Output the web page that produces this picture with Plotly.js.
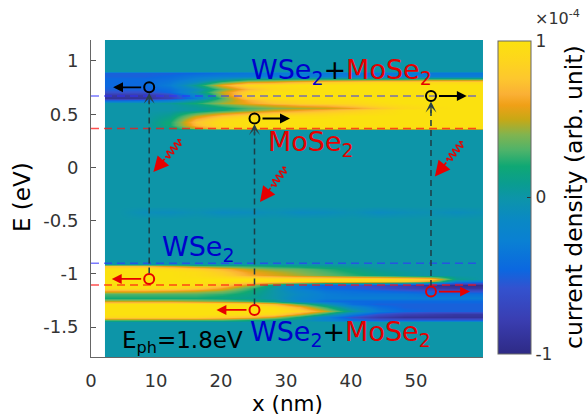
<!DOCTYPE html>
<html><head><meta charset="utf-8">
<script src="https://cdn.plot.ly/plotly-3.0.1.min.js"></script>
<style>html,body{margin:0;padding:0;background:#fff}#plot{width:588px;height:415px}</style>
</head><body><div id="plot"></div>
<script>
// ---------------- data ----------------
// x positions (nm) of the sampled current-density columns
const xPositions = [4.15, 8.15, 12.15, 16.15, 20.15, 24.15, 28.15, 32.15, 36.15, 40.15, 44.15, 48.15, 52.15, 56.15, 60.15];
// energy levels (eV), top to bottom
const energyLevels = [1.22, 0.905, 0.885, 0.86, 0.83, 0.80, 0.77, 0.74, 0.71, 0.68, 0.655, 0.635, 0.61, 0.585, 0.56, 0.535, 0.51, 0.485, 0.455, 0.425, 0.395, 0.372, 0.355,
  -0.36, -0.42, -0.48,
  -0.905, -0.925, -0.95, -0.98, -1.01, -1.045, -1.07, -1.10, -1.13, -1.16, -1.19, -1.225, -1.255, -1.285, -1.315, -1.345, -1.375, -1.405, -1.43, -1.45, -1.80];
// current density (x1e-4 arb. unit), one row per energy level
const currentDensity = [
  [0,0,0,0,0,0,0,0,0,0,0,0,0,0,0],
  [0,0,0,0,0,0,0,0,0,0,0,0,0,0,0],
  [-0.5,-0.5,-0.5,-0.45,-0.4,-0.35,-0.35,-0.35,-0.35,-0.35,-0.35,-0.35,-0.35,-0.35,-0.35],
  [-0.5,-0.5,-0.45,-0.35,-0.3,-0.3,-0.3,-0.3,-0.3,-0.3,-0.3,-0.3,-0.3,-0.3,-0.3],
  [-0.45,-0.45,-0.4,-0.25,-0.05,0.15,0.2,0.25,0.25,0.25,0.25,0.25,0.3,0.3,0.3],
  [-0.45,-0.45,-0.35,-0.1,0.3,0.55,0.6,0.7,0.8,0.85,0.9,0.9,0.9,0.9,0.9],
  [-0.45,-0.45,-0.3,0.1,0.6,0.9,0.95,1,1,1,1,1,1,1,1],
  [-0.5,-0.5,-0.4,-0.1,0.35,0.7,0.9,0.95,1,1,1,1,1,1,1],
  [-0.6,-0.6,-0.45,0,0.5,0.85,1,1,1,1,1,1,1,1,1],
  [-0.85,-0.85,-0.7,-0.2,0.45,0.9,1,1,1,1,1,1,1,1,1],
  [-0.9,-0.9,-0.75,-0.3,0.3,0.8,0.95,1,1,1,1,1,1,1,1],
  [-0.5,-0.45,-0.3,0,0.35,0.65,0.85,0.9,0.95,0.95,1,1,1,1,1],
  [0,0,0.05,0.2,0.45,0.6,0.75,0.85,0.9,0.9,0.95,1,1,1,1],
  [0,0,0,0.1,0.3,0.45,0.55,0.65,0.7,0.8,0.9,0.95,1,1,1],
  [0,0,0,0.05,0.15,0.3,0.4,0.45,0.5,0.6,0.75,0.9,0.95,1,1],
  [0,0,0,0.05,0.2,0.35,0.5,0.6,0.7,0.8,0.9,1,1,1,1],
  [0,0,0.05,0.3,0.5,0.65,0.75,0.8,0.85,0.9,0.95,1,1,1,1],
  [0,0,0.1,0.5,0.75,0.9,0.95,0.95,0.95,1,1,1,1,1,1],
  [0,0,0.15,0.65,0.9,1,1,1,1,1,1,1,1,1,1],
  [0,0,0.2,0.75,0.95,1,1,1,1,1,1,1,1,1,1],
  [0,0,0.2,0.7,0.95,1,1,1,1,1,1,1,1,1,1],
  [0,0,0.1,0.5,0.8,0.9,0.95,0.95,0.95,0.95,0.95,0.95,0.95,0.95,0.95],
  [0,0,0,0,0,0,0,0,0,0,0,0,0,0,0],
  [0,0,0,0,0,0,0,0,0,0,0,0,0,0,0],
  [0,-0.08,-0.1,-0.05,-0.12,-0.1,-0.06,-0.12,-0.1,-0.05,-0.12,-0.08,-0.05,-0.1,-0.05],
  [0,0,0,0,0,0,0,0,0,0,0,0,0,0,0],
  [0,0,0,0,0,0,0,0,0,0,0,0,0,0,0],
  [0.75,0.7,0.55,0.4,0.3,0.25,0.2,0.15,0.1,0.05,0,0,0,0,0],
  [1,1,0.95,0.85,0.7,0.5,0.4,0.35,0.25,0.15,0.05,0,0,0,0],
  [1,1,1,0.95,0.8,0.6,0.5,0.4,0.3,0.2,0.1,0.05,0,0,0],
  [1,1,1,0.95,0.85,0.65,0.55,0.45,0.35,0.25,0.15,0.05,0,0,0],
  [1,1,1,1,1,1,0.95,0.95,0.95,0.95,0.95,0.9,0.8,0.1,0],
  [1,1,1,1,1,0.95,0.95,0.95,0.9,0.9,0.85,0.8,0.6,-0.2,-0.3],
  [1,1,1,0.95,0.8,0.5,0.1,-0.3,-0.5,-0.55,-0.65,-0.75,-0.9,-0.95,-0.95],
  [0.95,0.95,0.9,0.8,0.6,0.3,0,-0.3,-0.45,-0.5,-0.6,-0.7,-0.8,-0.85,-0.85],
  [0.6,0.6,0.55,0.5,0.4,0.2,0,-0.2,-0.35,-0.4,-0.45,-0.5,-0.55,-0.6,-0.6],
  [0.3,0.3,0.3,0.3,0.25,0.15,0,-0.15,-0.3,-0.35,-0.35,-0.35,-0.4,-0.4,-0.4],
  [0.2,0.2,0.2,0.2,0.15,0.1,0,-0.2,-0.3,-0.3,-0.3,-0.3,-0.3,-0.3,-0.3],
  [0.5,0.5,0.5,0.45,0.4,0.3,0.1,-0.2,-0.4,-0.45,-0.45,-0.45,-0.45,-0.45,-0.45],
  [1,1,1,1,0.95,0.9,0.7,0.35,0,-0.4,-0.5,-0.5,-0.5,-0.5,-0.5],
  [1,1,1,1,1,1,0.95,0.65,0.25,-0.15,-0.4,-0.5,-0.5,-0.5,-0.5],
  [1,1,1,1,1,1,1,0.85,0.5,0.05,-0.3,-0.45,-0.5,-0.5,-0.5],
  [1,1,1,1,1,0.95,0.9,0.55,0.15,-0.3,-0.6,-0.75,-0.8,-0.85,-0.85],
  [0.9,0.9,0.9,0.9,0.8,0.7,0.5,0.15,-0.25,-0.6,-0.8,-0.9,-0.9,-0.9,-0.9],
  [0.3,0.3,0.3,0.3,0.3,0.2,0.1,0,-0.2,-0.4,-0.5,-0.5,-0.5,-0.5,-0.5],
  [0,0,0,0,0,0,0,0,0,0,0,0,0,0,0],
  [0,0,0,0,0,0,0,0,0,0,0,0,0,0,0]
];
const xTickVals = [0, 10, 20, 30, 40, 50];
const yTickVals = [-1.5, -1, -0.5, 0, 0.5, 1];
const yTickText = ['-1.5', '-1', '-0.5', '0', '0.5', '1'];
const cbTickVals = [-1, 0, 1];
const cbTickText = ['-1', '0', '1'];

// transitions: position x (nm), excited (upper) and hole (lower) energies (eV)
const transitionX = [8.95, 25.15, 52.3];
const upperE = [0.753, 0.46, 0.671];
const lowerE = [-1.047, -1.338, -1.166];
const upperArrowTipX = [3.4, 30.6, 57.8];
const lowerArrowTipX = [3.2, 19.3, 58.3];
// band-edge levels (eV)
const blueLevels = [0.67, -0.90];
const redLevels = [0.365, -1.103];
// photon arrows: tail and tip (x nm, E eV)
const photonTailX = [13.85, 30.0, 57.2];
const photonTailE = [0.258, 0.0, 0.24];
const photonTipX = [9.6, 26.0, 52.9];
const photonTipE = [-0.042, -0.324, -0.084];

// ---------------- layout geometry ----------------
const W = 588, H = 415, ML = 91, MR = 105, MT = 40, MB = 58;
const xRange = [0, 60.3], yRange = [-1.78, 1.197];
const PW = W - ML - MR, PH = H - MT - MB;
const pxPerX = PW / (xRange[1] - xRange[0]);
const pxPerY = PH / (yRange[1] - yRange[0]);
const toPx = (x, y) => [ML + (x - xRange[0]) * pxPerX, MT + (yRange[1] - y) * pxPerY];
const toData = (px, py) => [xRange[0] + (px - ML) / pxPerX, yRange[1] - (py - MT) / pxPerY];
const paperX = px => (px - ML) / PW;
const paperY = py => (H - MB - py) / PH;

const FONT = 'DejaVu Sans, sans-serif';
const BLUE = '#0000cc', RED = '#e60000';

// ascending energy order for the heatmap
const yAsc = energyLevels.slice().reverse();
const zAsc = currentDensity.slice().reverse();

const colorscale = [
  [0.00, '#2e2a85'], [0.11, '#3a3eb2'], [0.21, '#3352cf'], [0.27, '#0b68e0'],
  [0.36, '#0a80d3'], [0.43, '#0a89c4'], [0.50, '#0d95a8'], [0.54, '#0a9c92'],
  [0.60, '#0fa874'], [0.65, '#4db36a'], [0.70, '#80b450'], [0.75, '#c8a815'],
  [0.795, '#f0a017'], [0.83, '#fab035'], [0.88, '#fdc72e'], [0.94, '#fdd61c'], [1.00, '#fbe10f']
];

const heat = {
  type: 'heatmap', x: xPositions, y: yAsc, z: zAsc,
  zmin: -1, zmax: 1, zsmooth: 'best', colorscale: colorscale, hoverinfo: 'skip',
  colorbar: {
    x: paperX(498), xanchor: 'left', xpad: 0, ypad: 0,
    y: paperY(41), yanchor: 'top', len: 313 / PH, lenmode: 'fraction',
    thickness: 33, outlinewidth: 1, outlinecolor: '#666',
    tickvals: cbTickVals, ticktext: cbTickText, ticks: 'inside', ticklen: 4, tickcolor: '#333',
    tickfont: {family: FONT, size: 17, color: '#333'}
  }
};

const shapes = [];
const annotations = [];

blueLevels.forEach(e => shapes.push({type: 'line', xref: 'x', yref: 'y', x0: 0, x1: 59.4, y0: e, y1: e,
  line: {color: 'rgba(50,50,255,0.65)', width: 1.5, dash: '8px,5px'}}));
redLevels.forEach(e => shapes.push({type: 'line', xref: 'x', yref: 'y', x0: 0, x1: 59.4, y0: e, y1: e,
  line: {color: 'rgba(255,20,20,0.75)', width: 1.5, dash: '8px,5px'}}));

const rData = 5.5 / pxPerY;
transitionX.forEach((x, i) => {
  shapes.push({type: 'line', xref: 'x', yref: 'y', x0: x, x1: x, y0: lowerE[i] + rData, y1: upperE[i] - rData - 8 / pxPerY,
    line: {color: '#1d3d45', width: 1.5, dash: '6px,4px'}});
  annotations.push({xref: 'x', yref: 'y', x: x, y: upperE[i] - rData, text: '', showarrow: true,
    ax: 0, ay: 13, arrowhead: 3, arrowsize: 1.3, arrowwidth: 1.4, arrowcolor: '#2a4147'});
  [[upperE[i], '#000'], [lowerE[i], RED]].forEach(([e, c]) => shapes.push({type: 'circle', xref: 'x', yref: 'y',
    xsizemode: 'pixel', ysizemode: 'pixel', xanchor: x, yanchor: e, x0: -5, x1: 5, y0: -5, y1: 5,
    line: {color: c, width: 2}, fillcolor: 'rgba(0,0,0,0)'}));
  const su = upperArrowTipX[i] < x ? -1 : 1;
  annotations.push({xref: 'x', yref: 'y', axref: 'x', ayref: 'y', x: upperArrowTipX[i], y: upperE[i],
    ax: x + su * 6.5 / pxPerX, ay: upperE[i], text: '', showarrow: true,
    arrowhead: 2, arrowsize: 1.1, arrowwidth: 1.8, arrowcolor: '#000'});
  const sl = lowerArrowTipX[i] < x ? -1 : 1;
  annotations.push({xref: 'x', yref: 'y', axref: 'x', ayref: 'y', x: lowerArrowTipX[i], y: lowerE[i],
    ax: x + sl * 6.5 / pxPerX, ay: lowerE[i], text: '', showarrow: true,
    arrowhead: 2, arrowsize: 1.1, arrowwidth: 1.8, arrowcolor: RED});
});

// photon (wavy) arrows
photonTailX.forEach((tx, i) => {
  const S = toPx(tx, photonTailE[i]);
  const T = toPx(photonTipX[i], photonTipE[i]);
  const dx = T[0] - S[0], dy = T[1] - S[1];
  const L = Math.hypot(dx, dy);
  const ux = dx / L, uy = dy / L, nx = -uy, ny = ux;
  const Lw = L * 0.55, amp = 3.2, lam = 5.5;
  const pts = [];
  for (let k = 0; k <= 40; k++) {
    const t = Lw * k / 40;
    const a = amp * Math.sin(2 * Math.PI * t / lam) * Math.min(1, t / 2, (Lw - t) / 2);
    pts.push(toData(S[0] + ux * t + nx * a, S[1] + uy * t + ny * a));
  }
  shapes.push({type: 'path', xref: 'x', yref: 'y',
    path: 'M' + pts.map(p => p[0].toFixed(4) + ',' + p[1].toFixed(4)).join('L'),
    line: {color: RED, width: 1.4}});
  const Wd = pts[pts.length - 1];
  annotations.push({xref: 'x', yref: 'y', axref: 'x', ayref: 'y', x: photonTipX[i], y: photonTipE[i],
    ax: Wd[0], ay: Wd[1], text: '', showarrow: true, arrowhead: 2, arrowsize: 1.9, arrowwidth: 1.6, arrowcolor: RED});
});

// text labels
const both = `<span style="color:${BLUE}">WSe<sub>2</sub></span>+<span style="color:${RED}">MoSe<sub>2</sub></span>`;
function label(px, py, text, size) {
  const d = toData(px, py);
  annotations.push({xref: 'x', yref: 'y', x: d[0], y: d[1], xanchor: 'left', yanchor: 'middle',
    text: text, showarrow: false, font: {family: FONT, size: size, color: '#000'}});
}
label(249, 71, both, 27);
label(266, 143.5, `<span style="color:${RED}">MoSe<sub>2</sub></span>`, 27);
label(160, 248.5, `<span style="color:${BLUE}">WSe<sub>2</sub></span>`, 27);
label(248, 333, both, 27);
label(120, 342, 'E<sub>ph</sub>=1.8eV', 23);

// axis titles
annotations.push({xref: 'paper', yref: 'paper', x: paperX(287), y: paperY(403), xanchor: 'center', yanchor: 'middle',
  showarrow: false, text: 'x (nm)', font: {family: FONT, size: 21.5, color: '#000'}});
annotations.push({xref: 'paper', yref: 'paper', x: paperX(22), y: paperY(197), xanchor: 'center', yanchor: 'middle',
  textangle: -90, showarrow: false, text: 'E (eV)', font: {family: FONT, size: 23, color: '#000'}});

// colorbar title and exponent
annotations.push({xref: 'paper', yref: 'paper', x: paperX(574), y: paperY(197),
  xanchor: 'center', yanchor: 'middle', textangle: -90, showarrow: false,
  text: 'current density (arb. unit)', font: {family: FONT, size: 23.5, color: '#000'}});
annotations.push({xref: 'paper', yref: 'paper', x: paperX(533), y: paperY(18),
  xanchor: 'left', yanchor: 'middle', showarrow: false,
  text: '×10<sup>-4</sup>', font: {family: FONT, size: 16, color: '#333'}});

const layout = {
  width: W, height: H, margin: {l: ML, r: MR, t: MT, b: MB, pad: 0},
  paper_bgcolor: '#fff', plot_bgcolor: '#fff', showlegend: false,
  font: {family: FONT, color: '#333'},
  xaxis: {range: xRange, tickvals: xTickVals, ticks: 'inside', ticklen: 5, tickcolor: '#555',
    showline: true, linecolor: '#666', linewidth: 1, showgrid: false, zeroline: false, layer: 'below traces',
    tickfont: {family: FONT, size: 18, color: '#333'}, ticklabelstandoff: 7},
  yaxis: {range: yRange, tickvals: yTickVals, ticktext: yTickText, ticks: 'inside', ticklen: 5, tickcolor: '#555',
    showline: true, linecolor: '#666', linewidth: 1, showgrid: false, zeroline: false, layer: 'below traces',
    tickfont: {family: FONT, size: 18, color: '#333'}, ticklabelstandoff: 8},
  shapes: shapes, annotations: annotations
};

Plotly.newPlot('plot', [heat], layout, {displayModeBar: false, staticPlot: true});
</script>
</body></html>
